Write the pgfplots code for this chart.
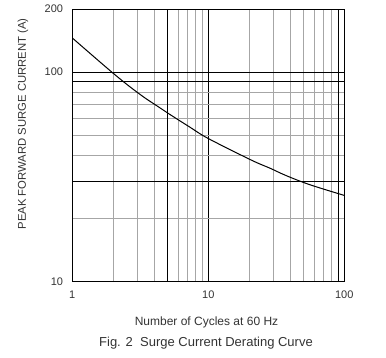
\documentclass[border=0pt]{standalone}
\usepackage{pgfplots}
\pgfplotsset{compat=1.18}
\usepackage{fontspec}
\setmainfont{Liberation Sans}
\begin{document}
\begin{tikzpicture}
\path[use as bounding box] (0,0) rectangle (386pt,358pt);
\begin{axis}[
  at={(72.3pt,76.3pt)}, anchor=south west,
  scale only axis, width=272pt, height=272.7pt,
  xmode=log, ymode=log,
  xmin=1, xmax=100, ymin=10, ymax=200,
  xtick={1,10,100}, xticklabels={1,10,100},
  ytick={10,100,200}, yticklabels={10,100,200},
  minor xtick={2,3,4,5,6,7,8,9,20,30,40,50,60,70,80,90},
  minor ytick={20,30,40,50,60,70,80,90},
  extra x ticks={5,90}, extra x tick labels={},
  extra y ticks={30,90}, extra y tick labels={},
  extra tick style={grid=major, major grid style={black, line width=0.7pt}},
  grid=both,
  major grid style={black, line width=0.7pt},
  minor grid style={black!35, line width=1pt},
  major tick length=0pt, minor tick length=0pt,
  axis line style={black, line width=0.8pt},
  /pgf/number format/assume math mode=true,
  tick label style={font=\fontsize{11}{13}\selectfont, text=black!80},
  yticklabel style={anchor=east, inner sep=0pt, xshift=-9pt},
  xticklabel style={anchor=north, inner sep=0pt, yshift=-9pt},
]
\addplot[black, line width=1pt, smooth, tension=0.6] coordinates {
  (1,145.5) (2.06,97.1) (3.18,77.9) (4.34,68.0) (5.38,62.0) (7.33,54.6)
  (10,48.2) (20.6,38.1) (28.4,34.8) (37.7,32.0) (56.0,29.0) (100,25.8)
};
\end{axis}
\node[font=\fontsize{12}{14}\selectfont, text=black!80] at (206.5pt,35.7pt) {Number of Cycles at 60 Hz};
\node[font=\fontsize{13}{15}\selectfont, text=black!80] at (206pt,15.3pt) {Fig. 2\ \ Surge Current Derating Curve};
\node[font=\fontsize{11.3}{13}\selectfont, text=black!80, rotate=90] at (23pt,234pt) {PEAK FORWARD SURGE CURRENT (A)};
\end{tikzpicture}
\end{document}
